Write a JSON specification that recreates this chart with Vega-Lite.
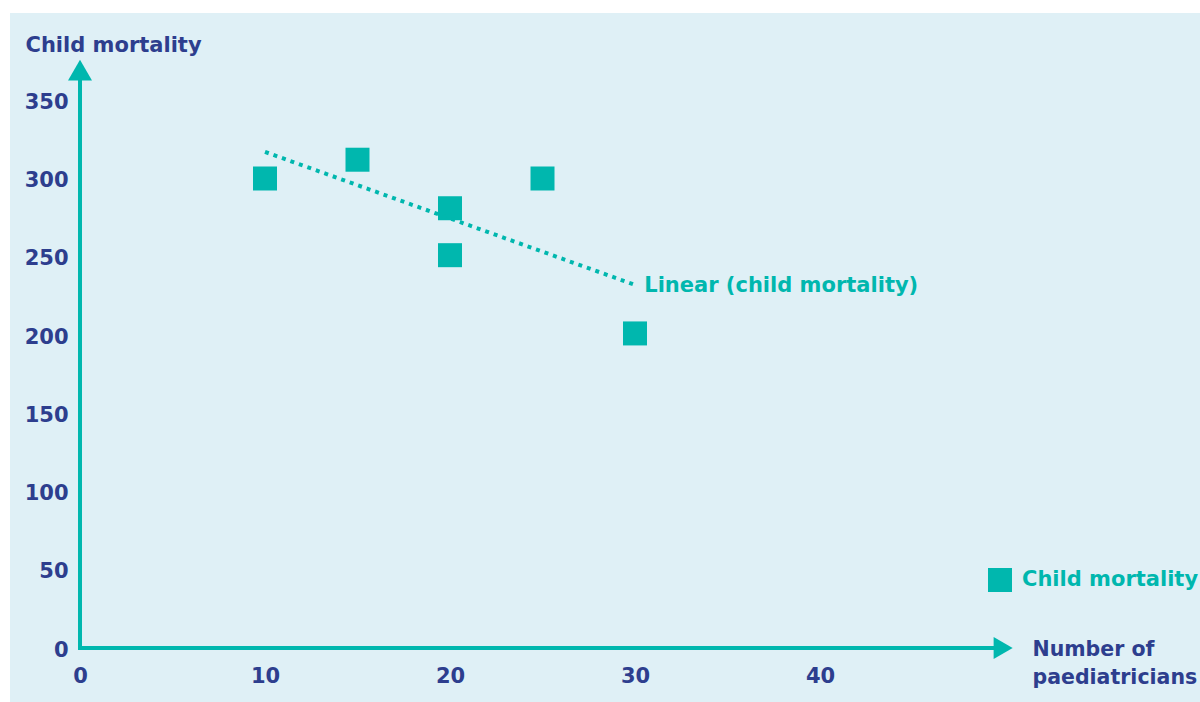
{
  "$schema": "https://vega.github.io/schema/vega-lite/v6.json",
  "width": 1190,
  "height": 689,
  "autosize": {"type": "none"},
  "padding": {"left": 10, "top": 13, "right": 0, "bottom": 0},
  "background": "white",
  "config": {"view": {"fill": "#dff0f6", "stroke": null}, "font": "DejaVu Sans"},
  "datasets": {
    "points": [
      {"paediatricians": 10, "mortality": 300, "series": "Child mortality"},
      {"paediatricians": 15, "mortality": 312, "series": "Child mortality"},
      {"paediatricians": 20, "mortality": 281, "series": "Child mortality"},
      {"paediatricians": 20, "mortality": 251, "series": "Child mortality"},
      {"paediatricians": 25, "mortality": 300, "series": "Child mortality"},
      {"paediatricians": 30, "mortality": 201, "series": "Child mortality"}
    ],
    "trend": [
      {"paediatricians": 10, "mortality": 317},
      {"paediatricians": 30, "mortality": 232}
    ],
    "trendLabel": [
      {"paediatricians": 30.5, "mortality": 227.5, "label": "Linear (child mortality)"}
    ]
  },
  "layer": [
    {
      "data": {"name": "points"},
      "mark": {"type": "point", "shape": "square", "filled": true, "opacity": 1, "size": 576},
      "encoding": {
        "x": {
          "field": "paediatricians", "type": "quantitative",
          "scale": {"domain": [-3.784, 60.54], "nice": false, "zero": false},
          "axis": {
            "values": [0, 10, 20, 30, 40], "domain": false, "ticks": false, "grid": false,
            "offset": -54, "labelPadding": 17, "labelOverlap": false, "labelBound": false, "labelFlush": false,
            "labelFontSize": 21, "labelFontWeight": "bold", "labelColor": "#2d3e8e",
            "title": ["Number of", "paediatricians"], "titleX": 1022, "titleY": 7,
            "titleAlign": "left", "titleBaseline": "alphabetic", "titleLineHeight": 28,
            "titleFontSize": 20.5, "titleFontWeight": "bold", "titleColor": "#2d3e8e"
          }
        },
        "y": {
          "field": "mortality", "type": "quantitative",
          "scale": {"domain": [-34.5, 405.75], "nice": false, "zero": false},
          "axis": {
            "values": [0, 50, 100, 150, 200, 250, 300, 350], "domain": false, "ticks": false, "grid": false,
            "offset": -70, "labelPadding": 12, "labelOffset": 2, "labelOverlap": false, "labelBound": false, "labelFlush": false,
            "labelFontSize": 21, "labelFontWeight": "bold", "labelColor": "#2d3e8e",
            "title": "Child mortality", "titleAngle": 0, "titleX": -55, "titleY": 38,
            "titleAlign": "left", "titleBaseline": "alphabetic",
            "titleFontSize": 21, "titleFontWeight": "bold", "titleColor": "#2d3e8e"
          }
        },
        "color": {
          "field": "series", "type": "nominal",
          "scale": {"range": ["#00b7ae"]},
          "legend": {
            "orient": "none", "legendX": 978, "legendY": 555, "title": null, "padding": 0,
            "symbolType": "square", "symbolSize": 576, "symbolStrokeWidth": 0,
            "labelFontSize": 21, "labelFontWeight": "bold", "labelColor": "#00b7ae", "labelOffset": 10, "labelLimit": 400
          }
        }
      }
    },
    {
      "data": {"values": [{}]},
      "mark": {"type": "rule", "color": "#00b7ae", "strokeWidth": 4, "strokeCap": "square"},
      "encoding": {
        "x": {"datum": 0, "type": "quantitative"},
        "y": {"datum": 0, "type": "quantitative"},
        "x2": {"datum": 49.4}
      }
    },
    {
      "data": {"values": [{}]},
      "mark": {"type": "rule", "color": "#00b7ae", "strokeWidth": 4, "strokeCap": "square"},
      "encoding": {
        "x": {"datum": 0, "type": "quantitative"},
        "y": {"datum": 0, "type": "quantitative"},
        "y2": {"datum": 362}
      }
    },
    {
      "data": {"values": [{}]},
      "mark": {"type": "point", "shape": "triangle-up", "filled": true, "opacity": 1, "color": "#00b7ae", "size": 576},
      "encoding": {
        "x": {"datum": 0, "type": "quantitative"},
        "y": {"datum": 369.3, "type": "quantitative"}
      }
    },
    {
      "data": {"values": [{}]},
      "mark": {"type": "point", "shape": "triangle-right", "filled": true, "opacity": 1, "color": "#00b7ae", "size": 484},
      "encoding": {
        "x": {"datum": 49.9, "type": "quantitative"},
        "y": {"datum": 0, "type": "quantitative"}
      }
    },
    {
      "data": {"name": "trend"},
      "mark": {"type": "line", "color": "#00b7ae", "strokeWidth": 4, "strokeDash": [4, 5]},
      "encoding": {
        "x": {"field": "paediatricians", "type": "quantitative"},
        "y": {"field": "mortality", "type": "quantitative"}
      }
    },
    {
      "data": {"name": "trendLabel"},
      "mark": {"type": "text", "align": "left", "baseline": "alphabetic", "color": "#00b7ae", "fontSize": 21, "fontWeight": "bold"},
      "encoding": {
        "x": {"field": "paediatricians", "type": "quantitative"},
        "y": {"field": "mortality", "type": "quantitative"},
        "text": {"field": "label"}
      }
    }
  ]
}
